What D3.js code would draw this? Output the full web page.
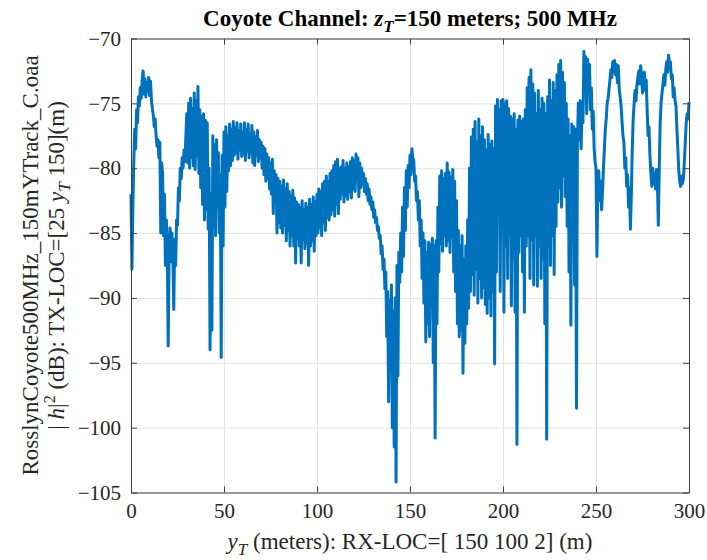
<!DOCTYPE html>
<html>
<head>
<meta charset="utf-8">
<script src="https://cdn.jsdelivr.net/npm/d3@7/dist/d3.min.js"></script>
<style>
  body { margin: 0; background: #fff; }
  svg { font-family: "Liberation Serif", "Times New Roman", serif; }
  .grid line { stroke: #e3e3e3; stroke-width: 1; }
  .grid path { display: none; }
  .axis path, .axis line { stroke: #404040; stroke-width: 1; }
  .axis text { fill: #262626; font-size: 21px; font-family: "Liberation Serif", serif; }
</style>
</head>
<body>
<svg class="chart"></svg>
<script>
// sample spacing along the track (m)
const step = 0.5;

// received power |h|^2 in dB, one value per 0.5 m from y_T = 0 to 300 m
const powerDb = [
  // 0 - 10
  -82.0, -87.8, -83.0, -79.5, -77.0, -78.5, -75.5, -76.5, -74.5, -75.2, -73.8, -74.6, -73.2, -72.5, -74.3, -73.1, -74.5, -73.4, -74.1, -73.0,
  // 10 - 20
  -74.4, -73.3, -74.8, -75.4, -75.9, -76.8, -76.2, -77.5, -78.3, -77.8, -79.2, -78.0, -85.0, -79.6, -80.5, -85.2, -82.0, -87.5, -84.0, -86.0,
  // 20 - 30
  -93.7, -86.5, -84.6, -87.2, -85.0, -86.8, -90.9, -85.5, -87.5, -84.0, -84.4, -81.5, -82.5, -80.0, -80.8, -79.2, -80.0, -78.6, -79.5, -77.5,
  // 30 - 40
  -75.8, -79.6, -75.0, -80.0, -74.6, -79.2, -75.4, -79.8, -74.2, -80.1, -74.8, -79.0, -73.7, -80.4, -75.5, -81.5, -76.0, -82.8, -75.8, -84.0,
  // 40 - 50
  -76.3, -83.2, -76.5, -84.7, -80.0, -94.0, -82.0, -92.5, -77.5, -84.5, -78.2, -85.2, -77.8, -83.0, -78.8, -85.0, -80.5, -94.6, -79.0, -86.0,
  // 50 - 60
  -77.2, -83.0, -76.8, -81.8, -77.5, -80.2, -76.6, -79.8, -77.0, -79.4, -76.4, -79.0, -76.9, -78.8, -76.5, -79.3, -77.1, -78.6, -76.6, -79.1,
  // 60 - 70
  -77.3, -78.9, -76.5, -79.4, -77.0, -78.7, -76.6, -79.2, -77.4, -78.8, -76.7, -79.6, -77.2, -79.8, -77.6, -79.0, -77.1, -79.5, -77.8, -79.2,
  // 70 - 80
  -78.0, -80.0, -78.3, -80.5, -78.5, -81.0, -78.9, -80.8, -79.2, -81.6, -79.6, -82.0, -79.3, -83.5, -80.2, -82.5, -80.5, -85.0, -80.8, -84.2,
  // 80 - 90
  -81.0, -84.6, -81.4, -85.0, -80.9, -84.4, -81.6, -85.6, -81.2, -84.8, -81.8, -86.0, -82.1, -85.2, -81.7, -86.0, -82.3, -87.3, -82.6, -85.4,
  // 90 - 100
  -82.8, -86.0, -83.0, -87.3, -82.5, -85.5, -83.2, -86.2, -82.7, -85.8, -83.0, -87.5, -82.4, -86.0, -82.8, -85.6, -82.2, -86.4, -82.6, -85.2,
  // 100 - 110
  -82.0, -85.0, -81.6, -84.6, -81.8, -85.2, -81.2, -84.2, -81.0, -84.8, -80.6, -83.8, -81.0, -84.0, -80.4, -83.6, -80.2, -83.2, -79.8, -83.7,
  // 110 - 120
  -79.5, -82.8, -79.3, -83.5, -80.0, -82.4, -79.9, -82.0, -79.4, -82.6, -80.0, -82.1, -79.6, -82.4, -79.9, -81.8, -79.5, -82.3, -79.2, -81.6,
  // 120 - 130
  -79.4, -81.8, -78.9, -80.8, -79.2, -82.2, -79.6, -81.5, -80.0, -81.2, -80.4, -81.8, -80.8, -82.0, -81.2, -82.5, -81.6, -82.8, -82.2, -83.2,
  // 130 - 140
  -82.6, -83.8, -83.2, -84.2, -83.8, -84.8, -84.5, -85.4, -85.2, -86.6, -86.0, -87.8, -87.0, -89.3, -88.0, -93.0, -89.5, -98.0, -90.2, -95.5,
  // 140 - 150
  -89.0, -100.0, -91.0, -101.5, -90.0, -104.2, -87.5, -96.0, -86.5, -88.8, -85.0, -88.0, -83.0, -86.8, -81.5, -84.8, -80.2, -83.0, -79.8, -81.5,
  // 150 - 160
  -79.0, -80.5, -78.5, -79.2, -79.4, -81.0, -80.6, -82.5, -81.8, -84.0, -82.5, -86.0, -84.0, -88.5, -85.0, -90.4, -85.6, -93.4, -86.5, -92.0,
  // 160 - 170
  -85.7, -93.0, -85.9, -90.5, -85.4, -95.0, -86.0, -100.8, -85.6, -92.0, -83.0, -88.0, -80.6, -85.8, -80.2, -86.4, -80.8, -85.2, -80.4, -86.0,
  // 170 - 180
  -79.6, -85.6, -80.3, -86.5, -80.7, -85.3, -80.1, -88.0, -81.0, -89.5, -82.5, -92.0, -84.8, -93.0, -86.0, -92.5, -85.2, -95.8, -87.0, -93.5,
  // 180 - 190
  -86.0, -92.0, -84.0, -90.8, -80.0, -89.5, -77.6, -88.2, -77.0, -89.8, -76.4, -87.8, -78.0, -90.4, -76.2, -88.5, -77.5, -90.0, -76.8, -89.2,
  // 190 - 200
  -77.8, -90.5, -78.6, -91.2, -77.4, -90.0, -78.2, -91.4, -77.9, -89.5, -78.5, -95.1, -75.2, -88.0, -74.7, -82.5, -75.5, -89.5, -74.8, -84.0,
  // 200 - 210
  -74.7, -91.1, -75.0, -86.0, -74.8, -88.5, -75.4, -85.2, -76.0, -90.6, -76.2, -87.0, -75.8, -91.1, -77.0, -101.3, -76.3, -86.5, -76.0, -85.2,
  // 210 - 220
  -76.4, -88.0, -76.2, -91.1, -75.5, -86.0, -73.8, -85.2, -73.0, -88.5, -72.4, -85.5, -73.5, -89.0, -74.2, -85.2, -75.8, -89.1, -74.0, -86.0,
  // 220 - 230
  -75.5, -88.5, -74.6, -87.0, -75.0, -92.0, -75.8, -100.9, -74.5, -86.0, -73.2, -87.5, -74.8, -85.2, -73.4, -88.2, -74.0, -84.5, -72.8, -82.6,
  // 230 - 240
  -72.0, -81.5, -71.7, -83.0, -72.6, -80.6, -73.4, -82.2, -75.0, -84.5, -76.2, -88.0, -77.5, -92.1, -76.6, -85.5, -76.8, -89.0, -77.0, -98.5,
  // 240 - 250
  -78.0, -75.0, -77.8, -74.8, -78.5, -74.9, -76.5, -71.0, -73.6, -71.4, -75.8, -71.6, -74.0, -72.0, -75.5, -73.8, -77.0, -75.6, -78.5, -79.5,
  // 250 - 260
  -80.0, -86.8, -81.0, -80.2, -82.5, -81.0, -83.2, -81.8, -80.0, -78.5, -77.0, -76.2, -75.0, -74.6, -73.9, -73.2, -72.4, -73.0, -71.8, -72.6,
  // 260 - 270
  -71.7, -72.8, -72.0, -73.4, -72.1, -73.9, -74.5, -75.2, -76.4, -77.5, -78.0, -80.0, -79.2, -81.4, -80.5, -83.0, -81.5, -84.7, -82.0, -78.5,
  // 270 - 280
  -76.2, -75.0, -74.0, -74.8, -73.6, -73.0, -72.5, -73.5, -72.1, -72.8, -74.2, -73.0, -72.6, -74.0, -73.2, -75.5, -77.5, -76.8, -79.0, -80.4,
  // 280 - 290
  -81.4, -80.0, -81.2, -80.4, -81.6, -80.1, -81.0, -84.4, -80.0, -76.5, -74.9, -74.2, -73.5, -72.8, -73.6, -72.4, -71.8, -72.6, -71.3, -72.0,
  // 290 - 300
  -71.8, -73.1, -72.8, -74.5, -73.8, -74.8, -75.2, -77.0, -78.5, -80.2, -81.0, -81.4, -80.6, -81.2, -80.8, -79.5, -78.0, -76.5, -75.8, -76.2,
  -74.9
];

// tick labels
const xTicks = [0, 50, 100, 150, 200, 250, 300];
const yTicks = [-105, -100, -95, -90, -85, -80, -75, -70];

let margin = {
    top: 38.5,
    right: 18,
    bottom: 67.5,
    left: 131
};

let width = 707 - margin.left - margin.right;
let height = 560 - margin.top - margin.bottom;

let x = d3.scaleLinear()
    .domain([0, 300])
    .range([0, width]);

let y = d3.scaleLinear()
    .domain([-105, -70])
    .range([height, 0]);

let svg = d3.select(".chart")
    .attr("width", 707)
    .attr("height", 560);

let chart = svg.append("g")
    .attr("transform", `translate(${margin.left},${margin.top})`);

// grid
chart.append("g")
    .attr("class", "grid")
    .attr("transform", `translate(0,${height})`)
    .call(d3.axisBottom(x).tickValues(xTicks).tickSize(-height).tickFormat(""));

chart.append("g")
    .attr("class", "grid")
    .call(d3.axisLeft(y).tickValues(yTicks).tickSize(-width).tickFormat(""));

// the trace
let data = powerDb.map((v, i) => ({ pos: i * step, db: v }));

let line = d3.line()
    .x(d => x(d.pos))
    .y(d => y(d.db));

chart.append("path")
    .datum(data)
    .attr("fill", "none")
    .attr("stroke", "#0072BD")
    .attr("stroke-width", 3)
    .attr("stroke-linejoin", "round")
    .attr("d", line);

// axes, ticks pointing inward on all four sides
chart.append("g")
    .attr("class", "axis")
    .attr("transform", `translate(0,${height})`)
    .call(d3.axisBottom(x).tickValues(xTicks).tickSizeInner(-6).tickSizeOuter(0).tickPadding(11));

chart.append("g")
    .attr("class", "axis")
    .call(d3.axisLeft(y).tickValues(yTicks).tickSizeInner(-6).tickSizeOuter(0).tickPadding(10));

chart.append("g")
    .attr("class", "axis")
    .call(d3.axisTop(x).tickValues(xTicks).tickSizeInner(-6).tickSizeOuter(0).tickFormat(""));

chart.append("g")
    .attr("class", "axis")
    .attr("transform", `translate(${width},0)`)
    .call(d3.axisRight(y).tickValues(yTicks).tickSizeInner(-6).tickSizeOuter(0).tickFormat(""));

// title
let title = svg.append("text")
    .attr("x", margin.left + width / 2)
    .attr("y", 26)
    .attr("text-anchor", "middle")
    .style("font-size", "23px")
    .style("font-weight", "bold")
    .attr("fill", "#000");
title.append("tspan").text("Coyote Channel: ");
title.append("tspan").style("font-style", "italic").text("z");
title.append("tspan").style("font-style", "italic").style("font-size", "17px").attr("dy", 6).text("T");
title.append("tspan").attr("dy", -6).text("=150 meters; 500 MHz");

// x label
let xLabel = svg.append("text")
    .attr("x", margin.left + width / 2)
    .attr("y", 549)
    .attr("text-anchor", "middle")
    .style("font-size", "23px")
    .attr("fill", "#262626");
xLabel.append("tspan").style("font-style", "italic").text("y");
xLabel.append("tspan").style("font-style", "italic").style("font-size", "17px").attr("dy", 6).text("T");
xLabel.append("tspan").attr("dy", -6).text(" (meters): RX-LOC=[ 150 100 2] (m)");

// y label, two lines
let yMid = margin.top + height / 2;

svg.append("text")
    .attr("transform", `translate(38,${yMid}) rotate(-90)`)
    .attr("text-anchor", "middle")
    .style("font-size", "23px")
    .attr("fill", "#262626")
    .text("RosslynCoyote500MHz_150mYTrack_C.oaa");

let yLabel2 = svg.append("text")
    .attr("transform", `translate(64,${yMid}) rotate(-90)`)
    .attr("text-anchor", "middle")
    .style("font-size", "23px")
    .attr("fill", "#262626");
yLabel2.append("tspan").text("| ");
yLabel2.append("tspan").style("font-style", "italic").text("h");
yLabel2.append("tspan").text("|");
yLabel2.append("tspan").style("font-size", "16px").attr("dy", -9).text("2");
yLabel2.append("tspan").attr("dy", 9).text(" (dB): TX-LOC=[25  ");
yLabel2.append("tspan").style("font-style", "italic").text("y");
yLabel2.append("tspan").style("font-style", "italic").style("font-size", "17px").attr("dy", 6).text("T");
yLabel2.append("tspan").attr("dy", -6).text(" 150](m)");
</script>
</body>
</html>
